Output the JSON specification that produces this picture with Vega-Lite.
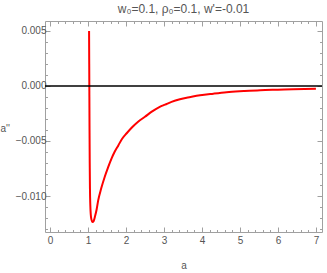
{
  "$schema": "https://vega.github.io/schema/vega-lite/v6.json",
  "autosize": "none",
  "width": 277,
  "height": 211,
  "padding": {"left": 45, "top": 21, "right": 5, "bottom": 41},
  "background": "white",
  "config": {
    "view": {"stroke": "#a0a0a0", "strokeWidth": 1},
    "font": "DejaVu Sans",
    "axis": {"labelFont": "Liberation Sans", "titleFont": "Liberation Sans", "labelColor": "#555555", "titleColor": "#555555", "labelFontSize": 10, "titleFontSize": 10, "titleFontWeight": "normal", "domain": false, "grid": false, "tickColor": "#a0a0a0", "tickWidth": 1}
  },
  "title": {"text": "w₀=0.1, ρ₀=0.1, w'=-0.01", "font": "Liberation Sans", "fontSize": 12, "fontWeight": "normal", "color": "#555555", "anchor": "middle", "offset": 5},
  "data": {"values": [
    {"a": 1.030, "v": 0.0050},
    {"a": 1.034, "v": 0.0020},
    {"a": 1.038, "v": -0.0010},
    {"a": 1.042, "v": -0.0040},
    {"a": 1.047, "v": -0.0070},
    {"a": 1.053, "v": -0.0093},
    {"a": 1.062, "v": -0.0108},
    {"a": 1.075, "v": -0.0117},
    {"a": 1.09, "v": -0.0121},
    {"a": 1.12, "v": -0.01236},
    {"a": 1.15, "v": -0.01228},
    {"a": 1.19, "v": -0.0118},
    {"a": 1.23, "v": -0.0112},
    {"a": 1.27, "v": -0.0104},
    {"a": 1.35, "v": -0.0093},
    {"a": 1.447, "v": -0.0082},
    {"a": 1.53, "v": -0.0074},
    {"a": 1.62, "v": -0.0066},
    {"a": 1.70, "v": -0.0060},
    {"a": 1.80, "v": -0.0054},
    {"a": 1.9, "v": -0.0048},
    {"a": 2.02, "v": -0.0043},
    {"a": 2.15, "v": -0.0038},
    {"a": 2.32, "v": -0.00325},
    {"a": 2.5, "v": -0.0028},
    {"a": 2.68, "v": -0.00234},
    {"a": 2.89, "v": -0.0019},
    {"a": 3.03, "v": -0.0017},
    {"a": 3.2, "v": -0.00145},
    {"a": 3.42, "v": -0.00121},
    {"a": 3.7, "v": -0.00101},
    {"a": 3.95, "v": -0.00085},
    {"a": 4.3, "v": -0.0007},
    {"a": 4.65, "v": -0.00057},
    {"a": 5.1, "v": -0.00047},
    {"a": 5.53, "v": -0.00039},
    {"a": 6.0, "v": -0.00034},
    {"a": 6.4, "v": -0.0003},
    {"a": 7.0, "v": -0.00025}
  ]},
  "resolve": {"axis": {"x": "independent", "y": "independent"}},
  "layer": [
    {
      "mark": {"type": "line", "color": "#ff0000", "strokeWidth": 2, "interpolate": "monotone", "clip": true},
      "encoding": {
        "x": {"field": "a", "type": "quantitative", "scale": {"domain": [-0.13, 7.16], "nice": false, "zero": false},
          "axis": {"orient": "bottom", "title": "a", "titleX": 138.5, "titleY": 33, "titleAnchor": "middle", "titleBaseline": "middle",
            "values": [0,0.2,0.4,0.6,0.8,1,1.2,1.4,1.6,1.8,2,2.2,2.4,2.6,2.8,3,3.2,3.4,3.6,3.8,4,4.2,4.4,4.6,4.8,5,5.2,5.4,5.6,5.8,6,6.2,6.4,6.6,6.8,7],
            "labelExpr": "abs(datum.value - round(datum.value)) < 0.001 ? format(datum.value, 'd') : ''",
            "tickSize": {"condition": {"test": "abs(datum.value - round(datum.value)) < 0.001", "value": -5}, "value": -2.5},
            "labelPadding": 8, "labelFlush": false}},
        "y": {"field": "v", "type": "quantitative", "scale": {"domain": [-0.01327, 0.0059], "nice": false, "zero": false},
          "axis": {"orient": "left", "title": "a''", "titleAngle": 0, "titleX": -45, "titleY": 107, "titleAlign": "left", "titleBaseline": "middle",
            "values": [-0.013,-0.012,-0.011,-0.010,-0.009,-0.008,-0.007,-0.006,-0.005,-0.004,-0.003,-0.002,-0.001,0,0.001,0.002,0.003,0.004,0.005],
            "labelExpr": "abs(round(datum.value*1000)) % 5 === 0 ? format(datum.value, '.3f') : ''",
            "tickSize": {"condition": {"test": "abs(round(datum.value*1000)) % 5 === 0", "value": -5}, "value": -2.5},
            "labelPadding": 4}}
      }
    },
    {
      "mark": {"type": "line", "opacity": 0},
      "encoding": {
        "x": {"field": "a", "type": "quantitative",
          "axis": {"orient": "top", "title": null, "labels": false,
            "values": [0,0.2,0.4,0.6,0.8,1,1.2,1.4,1.6,1.8,2,2.2,2.4,2.6,2.8,3,3.2,3.4,3.6,3.8,4,4.2,4.4,4.6,4.8,5,5.2,5.4,5.6,5.8,6,6.2,6.4,6.6,6.8,7],
            "tickSize": {"condition": {"test": "abs(datum.value - round(datum.value)) < 0.001", "value": -5}, "value": -2.5}}},
        "y": {"field": "v", "type": "quantitative",
          "axis": {"orient": "right", "title": null, "labels": false,
            "values": [-0.013,-0.012,-0.011,-0.010,-0.009,-0.008,-0.007,-0.006,-0.005,-0.004,-0.003,-0.002,-0.001,0,0.001,0.002,0.003,0.004,0.005],
            "tickSize": {"condition": {"test": "abs(round(datum.value*1000)) % 5 === 0", "value": -5}, "value": -2.5}}}
      }
    },
    {
      "data": {"values": [{"y0": 0}]},
      "mark": {"type": "rule", "color": "black", "strokeWidth": 1.5},
      "encoding": {"y": {"field": "y0", "type": "quantitative", "axis": null}}
    }
  ]
}
